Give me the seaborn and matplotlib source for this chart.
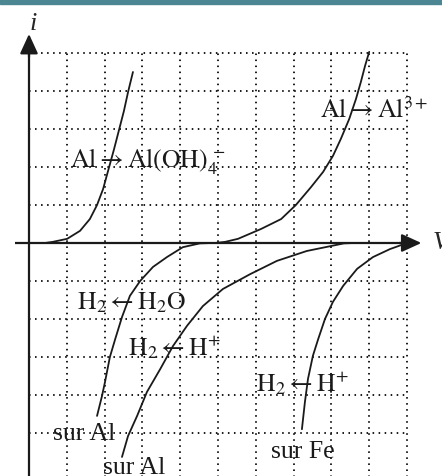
import matplotlib
matplotlib.use("Agg")
import matplotlib.pyplot as plt
import pandas as pd
import seaborn as sns

# current-potential curves (grid units)
al_oh4_x = [0.03, 0.42, 0.63, 1.01, 1.35, 1.61, 1.80, 1.96, 2.12, 2.25, 2.38, 2.51, 2.62, 2.75]
al_oh4_y = [0.0, 0.0, 0.03, 0.11, 0.32, 0.63, 1.00, 1.42, 2.00, 2.47, 2.97, 3.47, 3.97, 4.50]

al3_x = [4.40, 4.92, 5.19, 5.53, 6.14, 6.67, 7.06, 7.46, 7.78, 8.04, 8.25, 8.47, 8.65, 8.78, 8.89, 9.00]
al3_y = [0.0, 0.0, 0.03, 0.11, 0.37, 0.63, 1.00, 1.47, 1.87, 2.29, 2.74, 3.26, 3.79, 4.24, 4.66, 5.03]

h2o_al_x = [4.85, 4.52, 4.07, 3.65, 3.28, 2.94, 2.67, 2.46, 2.28, 2.14, 2.01, 1.93, 1.80]
h2o_al_y = [0.0, -0.01, -0.11, -0.37, -0.63, -1.00, -1.39, -1.95, -2.53, -3.00, -3.66, -4.03, -4.55]

hplus_al_x = [8.60, 8.33, 7.35, 6.56, 5.85, 5.13, 4.60, 4.18, 3.81, 3.47, 3.12, 2.86, 2.62, 2.46]
hplus_al_y = [0.0, -0.01, -0.21, -0.47, -0.82, -1.21, -1.66, -2.18, -2.71, -3.32, -3.92, -4.55, -5.08, -5.63]

hplus_fe_x = [10.0, 9.55, 9.10, 8.68, 8.31, 8.04, 7.83, 7.65, 7.51, 7.38, 7.30, 7.22]
hplus_fe_y = [0.0, -0.16, -0.37, -0.68, -1.13, -1.55, -2.00, -2.53, -2.97, -3.58, -4.18, -4.90]

curve_names = ["al_oh4", "al3", "h2o_al", "hplus_al", "hplus_fe"]

# labels: (text, x, y) in grid units, anchored left/baseline
labels = [
    (r"$\mathrm{Al} \rightarrow \mathrm{Al(OH)}_4^{\,-}$", 1.08, 2.0),
    (r"$\mathrm{Al} \rightarrow \mathrm{Al}^{3+}$", 7.70, 3.32),
    (r"$\mathrm{H}_2 \leftarrow \mathrm{H}_2\mathrm{O}$", 1.27, -1.71),
    (r"$\mathrm{H}_2 \leftarrow \mathrm{H}^{+}$", 2.62, -2.92),
    (r"$\mathrm{H}_2 \leftarrow \mathrm{H}^{+}$", 6.00, -3.87),
    ("sur Al", 0.63, -5.16),
    ("sur Al", 1.96, -6.06),
    ("sur Fe", 6.40, -5.63),
]

grid_x = [1, 2, 3, 4, 5, 6, 7, 8, 9, 10]
grid_y = [5, 4, 3, 2, 1, -1, -2, -3, -4, -5]

sns.set_style("white")
plt.rcParams["font.family"] = ["Liberation Serif", "DejaVu Serif"]
plt.rcParams["mathtext.fontset"] = "stix"

ink = "#1a1a1a"

fig = plt.figure(figsize=(4.42, 4.77), dpi=100)
ax = fig.add_axes([0, 0, 1, 1])
ax.set_xlim(-29 / 37.8, (442 - 29) / 37.8)
ax.set_ylim((244 - 477) / 38, 244 / 38)
ax.axis("off")

# dotted grid
dots = (0, (0.8, 2.3))
ax.vlines(grid_x, ymin=-7, ymax=5, colors=ink, linestyles=[dots], linewidth=1.4)
ax.hlines(grid_y, xmin=0, xmax=10, colors=ink, linestyles=[dots], linewidth=1.4)

# axes with arrows
ax.plot([0, 0], [-7, 5.2], color=ink, lw=1.6, solid_capstyle="butt")
ax.plot([-0.37, 9.9], [0, 0], color=ink, lw=1.6, solid_capstyle="butt")
arrow = dict(arrowstyle="-|>,head_length=1.2,head_width=0.55", lw=1.6,
             color=ink, shrinkA=0, shrinkB=0)
ax.annotate("", xy=(0, 5.5), xytext=(0, 4.9), arrowprops=arrow)
ax.annotate("", xy=(10.38, 0), xytext=(9.8, 0), arrowprops=arrow)
ax.text(0.1, 5.80, "i", style="italic", fontsize=19, ha="center", va="center")
ax.text(10.69, 0.02, "V", style="italic", fontsize=19, ha="left", va="center")

# curves
frames = []
for name in curve_names:
    xs = globals()[name + "_x"]
    ys = globals()[name + "_y"]
    frames.append(pd.DataFrame({"V": xs, "i": ys, "curve": name}))
df = pd.concat(frames, ignore_index=True)
for name, part in df.groupby("curve", sort=False):
    sns.lineplot(data=part, x="V", y="i", sort=False, estimator=None,
                 color=ink, lw=1.3, ax=ax)

for txt, x, y in labels:
    ax.text(x, y, txt, fontsize=18.5, ha="left", va="baseline", color=ink)

# teal rule on top
fig.patches.append(plt.Rectangle((0, 1 - 5 / 477), 1, 5 / 477,
                                 transform=fig.transFigure, color="#4d8693"))

fig.savefig("out.png", dpi=100)
